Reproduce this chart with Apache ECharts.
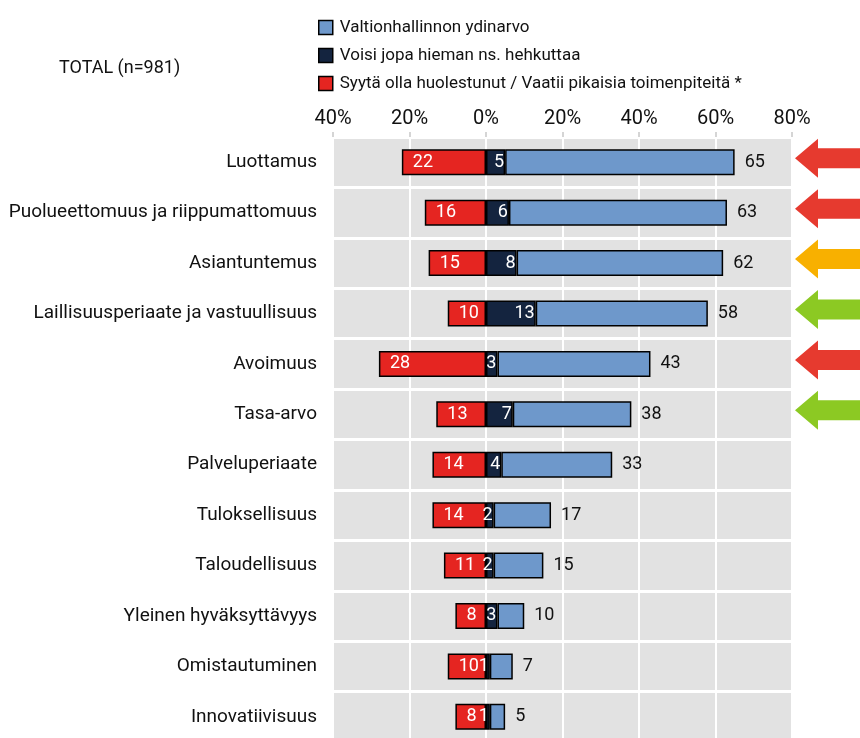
<!DOCTYPE html>
<html>
<head>
<meta charset="utf-8">
<script src="https://cdn.jsdelivr.net/npm/echarts@6/dist/echarts.min.js"></script>
<style>
  html, body { margin: 0; padding: 0; background: #fff; }
  #chart { width: 860px; height: 738px; }
</style>
</head>
<body>
<div id="chart"></div>
<script>
const categories = [
  "Luottamus",
  "Puolueettomuus ja riippumattomuus",
  "Asiantuntemus",
  "Laillisuusperiaate ja vastuullisuus",
  "Avoimuus",
  "Tasa-arvo",
  "Palveluperiaate",
  "Tuloksellisuus",
  "Taloudellisuus",
  "Yleinen hyväksyttävyys",
  "Omistautuminen",
  "Innovatiivisuus"
];
// Valtionhallinnon ydinarvo (total %, includes the "hehkuttaa" part)
const coreValue = [65, 63, 62, 58, 43, 38, 33, 17, 15, 10, 7, 5];
// Voisi jopa hieman ns. hehkuttaa
const hypeValue = [5, 6, 8, 13, 3, 7, 4, 2, 2, 3, 1, 1];
// Syytä olla huolestunut / Vaatii pikaisia toimenpiteitä *
const worryValue = [22, 16, 15, 10, 28, 13, 14, 14, 11, 8, 10, 8];
// trend arrows on the right
const arrowColors = ["#e63a2f", "#e63a2f", "#f8b000", "#8cc923", "#e63a2f", "#8cc923"];
const tickValues = [-40, -20, 0, 20, 40, 60, 80];

const FONT = "Roboto, 'Liberation Sans', sans-serif";
const RED = "#e52521";
const NAVY = "#14243f";
const BLUE = "#6e98cb";

const barBase = {
  type: "bar",
  stack: "total",
  barWidth: 26,
  xAxisIndex: 0,
  yAxisIndex: 0
};
const border = { borderColor: "#000", borderWidth: 1.5 };

const chart = echarts.init(document.getElementById("chart"));
chart.setOption({
  animation: false,
  textStyle: { fontFamily: FONT },
  title: {
    text: "TOTAL (n=981)",
    left: 54,
    top: 54,
    textStyle: { fontFamily: FONT, fontSize: 18, fontWeight: "normal", color: "#111" }
  },
  legend: {
    orient: "vertical",
    left: 313,
    top: 14,
    itemWidth: 14,
    itemHeight: 14,
    itemGap: 11,
    icon: "rect",
    itemStyle: { borderColor: "#000", borderWidth: 1.5 },
    textStyle: { fontFamily: FONT, fontSize: 17, color: "#111", padding: [0, 0, 0, 2] },
    data: [
      "Valtionhallinnon ydinarvo",
      "Voisi jopa hieman ns. hehkuttaa",
      "Syytä olla huolestunut / Vaatii pikaisia toimenpiteitä *"
    ]
  },
  grid: [
    {
      left: 333,
      right: 68,
      top: 137,
      height: 605,
      outerBoundsMode: "none",
      show: true,
      backgroundColor: "#e2e2e2",
      borderWidth: 0
    },
    { left: 792, right: 0, top: 137, height: 605, outerBoundsMode: "none" }
  ],
  xAxis: [
    {
      type: "value",
      gridIndex: 0,
      position: "top",
      min: -40,
      max: 80,
      interval: 20,
      axisLine: { show: false },
      axisTick: { show: true, length: 5, lineStyle: { color: "#c8c8c8", width: 1.5 } },
      axisLabel: {
        fontFamily: FONT,
        fontSize: 20,
        color: "#111",
        margin: 8,
        formatter: v => (tickValues.includes(v) ? Math.abs(v) + "%" : "")
      },
      splitLine: { show: true, lineStyle: { color: "#fff", width: 2 } }
    },
    { type: "value", gridIndex: 1, min: 0, max: 1, show: false }
  ],
  yAxis: [
    {
      type: "category",
      gridIndex: 0,
      inverse: true,
      data: categories,
      axisLine: { show: false },
      axisTick: { show: false },
      axisLabel: { fontFamily: FONT, fontSize: 19, color: "#111", margin: 16 },
      splitLine: { show: true, lineStyle: { color: "#fff", width: 3 } }
    },
    { type: "category", gridIndex: 1, inverse: true, data: categories, show: false }
  ],
  series: [
    Object.assign({}, barBase, {
      name: "Syytä olla huolestunut / Vaatii pikaisia toimenpiteitä *",
      data: worryValue.map(v => -v),
      itemStyle: Object.assign({ color: RED }, border),
      label: {
        show: true,
        position: "insideLeft",
        distance: 11,
        color: "#fff",
        fontFamily: FONT,
        fontSize: 18,
        formatter: p => Math.abs(p.value)
      }
    }),
    Object.assign({}, barBase, {
      name: "Voisi jopa hieman ns. hehkuttaa",
      data: hypeValue,
      itemStyle: Object.assign({ color: NAVY }, border),
      label: {
        show: true,
        position: "insideRight",
        distance: 1,
        color: "#fff",
        fontFamily: FONT,
        fontSize: 18
      }
    }),
    Object.assign({}, barBase, {
      name: "Valtionhallinnon ydinarvo",
      data: coreValue.map((v, i) => v - hypeValue[i]),
      itemStyle: Object.assign({ color: BLUE }, border),
      label: {
        show: true,
        position: "right",
        distance: 10,
        color: "#111",
        fontFamily: FONT,
        fontSize: 18,
        formatter: p => coreValue[p.dataIndex]
      }
    }),
    {
      type: "scatter",
      xAxisIndex: 1,
      yAxisIndex: 1,
      clip: false,
      silent: true,
      symbol: "path://M0,19.5 L23,0 L23,9.5 L70,9.5 L70,29.5 L23,29.5 L23,39 Z",
      symbolSize: [70, 39],
      symbolOffset: [38, -4],
      itemStyle: { opacity: 1 },
      data: arrowColors.map((c, i) => ({ value: [0, i], itemStyle: { color: c, opacity: 1 } }))
    }
  ]
});
</script>
</body>
</html>
